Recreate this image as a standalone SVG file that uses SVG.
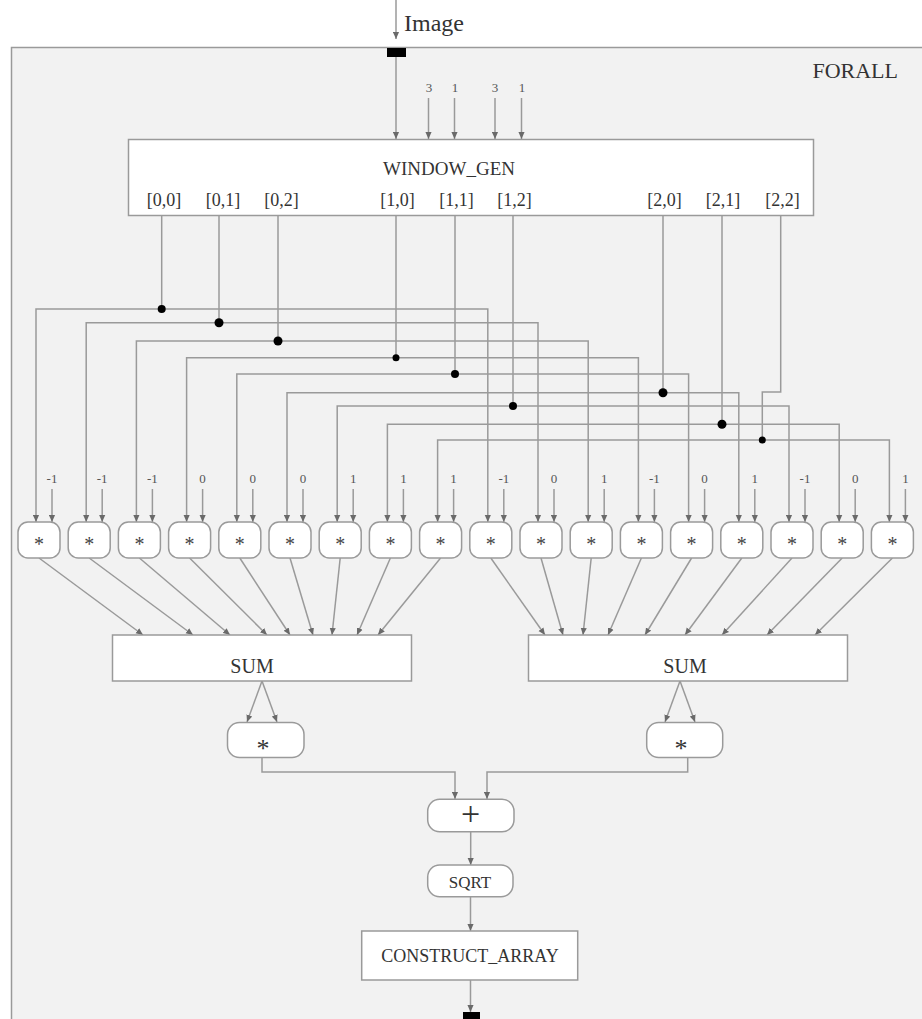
<svg xmlns="http://www.w3.org/2000/svg" width="922" height="1019" viewBox="0 0 922 1019">
<style>
.w{stroke:#9a9a9a;stroke-width:1.5;fill:none}
.wa{stroke:#9a9a9a;stroke-width:1.5;fill:none;marker-end:url(#a)}
.wb{stroke:#9a9a9a;stroke-width:1.5;fill:none;marker-start:url(#a);marker-end:url(#a)}
.box{fill:#fff;stroke:#9a9a9a;stroke-width:1.5}
.t{font-family:"Liberation Serif","Times New Roman",serif;fill:#333;text-anchor:middle}
.c{font-family:"Liberation Serif","Times New Roman",serif;fill:#555;text-anchor:middle;font-size:13px}
.st{font-family:"Liberation Serif","Times New Roman",serif;fill:#444;text-anchor:middle;font-size:20px}
.dot{fill:#000}
</style>
<defs>
<marker id="a" viewBox="0 0 8 8" refX="8" refY="4" markerWidth="7" markerHeight="7" markerUnits="userSpaceOnUse" orient="auto-start-reverse"><path d="M0,0.5 L8,4 L0,7.5 z" fill="#6a6a6a"/></marker>
</defs>
<rect x="0" y="0" width="922" height="1019" fill="#fff"/>
<g id="forall">
<rect x="11.5" y="47.5" width="930" height="1000" fill="#f2f2f2" stroke="#9a9a9a" stroke-width="1.5"/>
<text class="t" x="898" y="78" font-size="22" style="text-anchor:end">FORALL</text>
</g>
<g id="image-in">
<text class="t" x="404" y="31" font-size="24" style="text-anchor:start">Image</text>
<rect x="387" y="48" width="19" height="9" fill="#000"/>
</g>
<g id="inputs-const">
<text class="c" x="429" y="92" font-size="14">3</text>
<text class="c" x="455" y="92" font-size="14">1</text>
<text class="c" x="495" y="92" font-size="14">3</text>
<text class="c" x="522" y="92" font-size="14">1</text>
</g>
<g id="window_gen">
<rect class="box" x="128.5" y="139.5" width="685" height="76"/>
<text class="t" x="449" y="175" font-size="19">WINDOW_GEN</text>
<text class="t" x="164" y="206" font-size="18">[0,0]</text>
<text class="t" x="223" y="206" font-size="18">[0,1]</text>
<text class="t" x="281.5" y="206" font-size="18">[0,2]</text>
<text class="t" x="397.5" y="206" font-size="18">[1,0]</text>
<text class="t" x="456.5" y="206" font-size="18">[1,1]</text>
<text class="t" x="514.5" y="206" font-size="18">[1,2]</text>
<text class="t" x="664.5" y="206" font-size="18">[2,0]</text>
<text class="t" x="723" y="206" font-size="18">[2,1]</text>
<text class="t" x="782.5" y="206" font-size="18">[2,2]</text>
</g>
<g id="connectors">
<path class="wa" d="M396,0 V39"/>
<path class="wa" d="M396,57 V139"/>
<path class="wa" d="M428.5,98 V139"/>
<path class="wa" d="M454.5,98 V139"/>
<path class="wa" d="M495,98 V139"/>
<path class="wa" d="M521.5,98 V139"/>
<path class="w" d="M161.7,215.5 V309"/>
<path class="w" d="M219,215.5 V322.7"/>
<path class="w" d="M278,215.5 V341"/>
<path class="w" d="M396,215.5 V357.7"/>
<path class="w" d="M455,215.5 V374"/>
<path class="w" d="M663,215.5 V392.7"/>
<path class="w" d="M513,215.5 V406"/>
<path class="w" d="M722,215.5 V424.3"/>
<path class="w" d="M780.7,215.5 V392 H762.3 V440"/>
<path class="wb" d="M36,522 V309 H487.8 V522"/>
<path class="wb" d="M86.2,522 V322.7 H538 V522"/>
<path class="wb" d="M136.4,522 V341 H588.2 V522"/>
<path class="wb" d="M186.6,522 V357.7 H638.4 V522"/>
<path class="wb" d="M236.8,522 V374 H688.6 V522"/>
<path class="wb" d="M287,522 V392.7 H738.8 V522"/>
<path class="wb" d="M337.2,522 V406 H789 V522"/>
<path class="wb" d="M387.4,522 V424.3 H839.2 V522"/>
<path class="wb" d="M437.6,522 V440 H889.4 V522"/>
<circle class="dot" cx="161.7" cy="309" r="4"/>
<circle class="dot" cx="219" cy="322.7" r="4.5"/>
<circle class="dot" cx="278" cy="341" r="4.5"/>
<circle class="dot" cx="396" cy="357.7" r="3.5"/>
<circle class="dot" cx="455" cy="374" r="4"/>
<circle class="dot" cx="663" cy="392.7" r="4.5"/>
<circle class="dot" cx="513" cy="406" r="4"/>
<circle class="dot" cx="722" cy="424.3" r="4.5"/>
<circle class="dot" cx="762.3" cy="440" r="3.5"/>
<path class="wa" d="M52,489 V522"/>
<path class="wa" d="M102.2,489 V522"/>
<path class="wa" d="M152.4,489 V522"/>
<path class="wa" d="M202.6,489 V522"/>
<path class="wa" d="M252.8,489 V522"/>
<path class="wa" d="M303,489 V522"/>
<path class="wa" d="M353.2,489 V522"/>
<path class="wa" d="M403.4,489 V522"/>
<path class="wa" d="M453.6,489 V522"/>
<path class="wa" d="M503.8,489 V522"/>
<path class="wa" d="M554,489 V522"/>
<path class="wa" d="M604.2,489 V522"/>
<path class="wa" d="M654.4,489 V522"/>
<path class="wa" d="M704.6,489 V522"/>
<path class="wa" d="M754.8,489 V522"/>
<path class="wa" d="M805,489 V522"/>
<path class="wa" d="M855.2,489 V522"/>
<path class="wa" d="M905.4,489 V522"/>
<path class="wa" d="M39,558 L143,635"/>
<path class="wa" d="M89.2,558 L193,635"/>
<path class="wa" d="M139.4,558 L230,635"/>
<path class="wa" d="M189.6,558 L267,635"/>
<path class="wa" d="M239.8,558 L290,635"/>
<path class="wa" d="M290,558 L313,635"/>
<path class="wa" d="M340.2,558 L332,635"/>
<path class="wa" d="M390.4,558 L357,635"/>
<path class="wa" d="M440.6,558 L378,635"/>
<path class="wa" d="M490.8,558 L545,635"/>
<path class="wa" d="M541,558 L563,635"/>
<path class="wa" d="M591.2,558 L583,635"/>
<path class="wa" d="M641.4,558 L608,635"/>
<path class="wa" d="M691.6,558 L645,635"/>
<path class="wa" d="M741.8,558 L685,635"/>
<path class="wa" d="M792,558 L722,635"/>
<path class="wa" d="M842.2,558 L767,635"/>
<path class="wa" d="M892.4,558 L815,635"/>
<path class="wa" d="M262,681 L247,722"/>
<path class="wa" d="M262,681 L277,722"/>
<path class="wa" d="M680,681 L665,722"/>
<path class="wa" d="M680,681 L695,722"/>
<path class="wa" d="M262,757 V772 H455 V799"/>
<path class="wa" d="M687.7,757 V772 H487 V799"/>
<path class="wa" d="M470.7,832 V865"/>
<path class="wa" d="M470.5,897 V931"/>
<path class="wa" d="M470.5,980 V1012"/>
</g>
<g id="consts">
<text class="c" x="52" y="483">-1</text>
<text class="c" x="102.2" y="483">-1</text>
<text class="c" x="152.4" y="483">-1</text>
<text class="c" x="202.6" y="483">0</text>
<text class="c" x="252.8" y="483">0</text>
<text class="c" x="303" y="483">0</text>
<text class="c" x="353.2" y="483">1</text>
<text class="c" x="403.4" y="483">1</text>
<text class="c" x="453.6" y="483">1</text>
<text class="c" x="503.8" y="483">-1</text>
<text class="c" x="554" y="483">0</text>
<text class="c" x="604.2" y="483">1</text>
<text class="c" x="654.4" y="483">-1</text>
<text class="c" x="704.6" y="483">0</text>
<text class="c" x="754.8" y="483">1</text>
<text class="c" x="805" y="483">-1</text>
<text class="c" x="855.2" y="483">0</text>
<text class="c" x="905.4" y="483">1</text>
</g>
<g id="mul0"><rect class="box" x="18" y="522" width="42" height="36" rx="10"/><text class="st" x="39" y="551">*</text></g>
<g id="mul1"><rect class="box" x="68.2" y="522" width="42" height="36" rx="10"/><text class="st" x="89.2" y="551">*</text></g>
<g id="mul2"><rect class="box" x="118.4" y="522" width="42" height="36" rx="10"/><text class="st" x="139.4" y="551">*</text></g>
<g id="mul3"><rect class="box" x="168.6" y="522" width="42" height="36" rx="10"/><text class="st" x="189.6" y="551">*</text></g>
<g id="mul4"><rect class="box" x="218.8" y="522" width="42" height="36" rx="10"/><text class="st" x="239.8" y="551">*</text></g>
<g id="mul5"><rect class="box" x="269" y="522" width="42" height="36" rx="10"/><text class="st" x="290" y="551">*</text></g>
<g id="mul6"><rect class="box" x="319.2" y="522" width="42" height="36" rx="10"/><text class="st" x="340.2" y="551">*</text></g>
<g id="mul7"><rect class="box" x="369.4" y="522" width="42" height="36" rx="10"/><text class="st" x="390.4" y="551">*</text></g>
<g id="mul8"><rect class="box" x="419.6" y="522" width="42" height="36" rx="10"/><text class="st" x="440.6" y="551">*</text></g>
<g id="mul9"><rect class="box" x="469.8" y="522" width="42" height="36" rx="10"/><text class="st" x="490.8" y="551">*</text></g>
<g id="mul10"><rect class="box" x="520" y="522" width="42" height="36" rx="10"/><text class="st" x="541" y="551">*</text></g>
<g id="mul11"><rect class="box" x="570.2" y="522" width="42" height="36" rx="10"/><text class="st" x="591.2" y="551">*</text></g>
<g id="mul12"><rect class="box" x="620.4" y="522" width="42" height="36" rx="10"/><text class="st" x="641.4" y="551">*</text></g>
<g id="mul13"><rect class="box" x="670.6" y="522" width="42" height="36" rx="10"/><text class="st" x="691.6" y="551">*</text></g>
<g id="mul14"><rect class="box" x="720.8" y="522" width="42" height="36" rx="10"/><text class="st" x="741.8" y="551">*</text></g>
<g id="mul15"><rect class="box" x="771" y="522" width="42" height="36" rx="10"/><text class="st" x="792" y="551">*</text></g>
<g id="mul16"><rect class="box" x="821.2" y="522" width="42" height="36" rx="10"/><text class="st" x="842.2" y="551">*</text></g>
<g id="mul17"><rect class="box" x="871.4" y="522" width="42" height="36" rx="10"/><text class="st" x="892.4" y="551">*</text></g>
<g id="sum-left"><rect class="box" x="112.5" y="635" width="299" height="46"/><text class="t" x="252" y="673" font-size="20">SUM</text></g>
<g id="sum-right"><rect class="box" x="528.5" y="635" width="319" height="46"/><text class="t" x="685" y="673" font-size="20">SUM</text></g>
<g id="sq-left"><rect class="box" x="227.5" y="722.5" width="76.5" height="35" rx="12"/><text class="t" x="263" y="757" font-size="26">*</text></g>
<g id="sq-right"><rect class="box" x="646.7" y="722.5" width="76" height="35" rx="12"/><text class="t" x="681" y="757" font-size="26">*</text></g>
<g id="plus"><rect class="box" x="427.7" y="799.3" width="86.3" height="32.4" rx="12"/><text class="t" x="470.7" y="825" font-size="34">+</text></g>
<g id="sqrt"><rect class="box" x="427.7" y="865" width="85.3" height="31.7" rx="12"/><text class="t" x="470" y="888" font-size="17">SQRT</text></g>
<g id="construct"><rect class="box" x="361.7" y="931" width="216" height="49"/><text class="t" x="470" y="962" font-size="18">CONSTRUCT_ARRAY</text></g>
<g id="out"><rect x="463" y="1012" width="17" height="8" fill="#000"/></g>
</svg>
